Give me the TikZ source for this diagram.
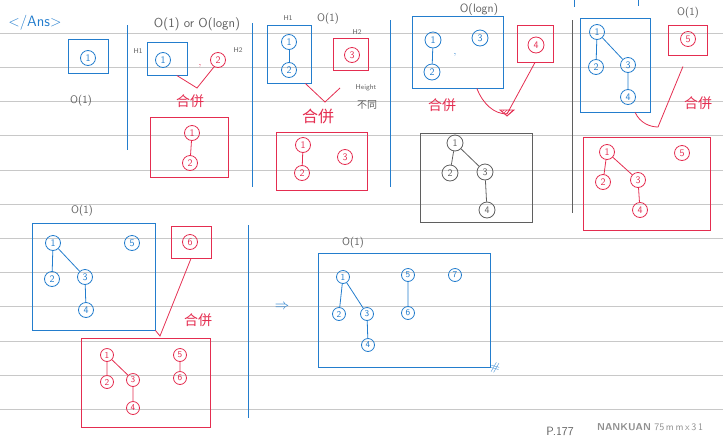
\documentclass[tikz,border=0pt]{standalone}
\usepackage{fontspec}
\newfontfamily\cjk{Noto Sans CJK TC}
\usepackage{tikz}
\usetikzlibrary{positioning,patterns}
\definecolor{penblue}{RGB}{35,125,205}
\definecolor{penred}{RGB}{228,45,80}
\definecolor{pencil}{RGB}{95,95,95}
\definecolor{ruling}{RGB}{200,200,200}
\tikzstyle{knode} = [circle, draw, inner sep=0pt, minimum size=15pt, line width=0.8pt, font=\sffamily\fontsize{10}{10}\selectfont]
\tikzstyle{note} = [text=pencil, font=\sffamily\fontsize{11}{11}\selectfont, inner sep=0pt]
\tikzstyle{merge} = [text=penred, font=\cjk\fontsize{14}{14}\selectfont, inner sep=0pt]

\begin{document}
\begin{tikzpicture}[x=1pt, y=-1pt,
	heap/.style = {draw=#1, line width=0.9pt, inner sep=0pt},
	pen/.style = {line width=0.8pt},
	small/.style = {knode, minimum size=13pt, font=\sffamily\fontsize{9}{9}\selectfont},
	]
	\useasboundingbox (0,0) rectangle (723,437);
	% notebook ruling
	\foreach \k in {0,...,11}
		\draw[ruling, line width=0.6pt] (0,{33+34.2*\k}) -- (723,{33+34.2*\k});
	\draw[penblue, pen] (127,25) -- (127,150);
	\draw[penblue, pen] (252,23) -- (252,187);
	\draw[penblue, pen] (390,20) -- (390,187);
	\draw[pencil, pen] (572,20) -- (572,213);
	\draw[penblue, pen] (248,225) -- (248,418);
	\draw[penblue, pen] (574,0) -- (574,7);
	\draw[penblue, pen] (638,0) -- (638,6);
	\node[text=penblue, font=\sffamily\fontsize{15}{15}\selectfont, inner sep=0pt] (ans) at (35,23) {</Ans>};

	% H = {1}
	\node[heap=penblue, minimum width=40pt, minimum height=34pt] (s1box) at (88,56) {};
	\node[knode, penblue] (s1n1) at (88,58) {1};
	\node[note] (s1cost) at (81,101) {O(1)};

	% insert 2
	\node[note, font=\sffamily\fontsize{13}{13}\selectfont] (s2cost) at (197,24) {O(1) or O(logn)};
	\node[note, font=\sffamily\scriptsize] (s2h1) at (138,51) {H1};
	\node[heap=penblue, minimum width=40pt, minimum height=33pt] (s2blue) at (167,58.5) {};
	\node[knode, penblue] (s2n1) at (163,60) {1};
	\node[text=penred, inner sep=0pt] (s2comma) at (200,66) {,};
	\node[knode, penred] (s2n2) at (218,60) {2};
	\node[note, font=\sffamily\scriptsize] (s2h2) at (238,50) {H2};
	\coordinate (s2v) at (197,88);
	\draw[penred, pen] (s2blue.-60) -- (s2v) -- (s2n2.240);
	\node[merge] (s2merge) at (190,101) {合併};
	\node[heap=penred, minimum width=78pt, minimum height=60pt] (s2red) at (189,147) {};
	\node[knode, penred] (s2r1) at (192,133) {1};
	\node[knode, penred] (s2r2) at (190,163) {2};
	\draw[penred, pen] (s2r1) -- (s2r2);

	% insert 3
	\node[note, font=\sffamily\scriptsize] (s3h1) at (288,18) {H1};
	\node[note] (s3cost) at (328,19) {O(1)};
	\node[note, font=\sffamily\scriptsize] (s3h2) at (357,32) {H2};
	\node[heap=penblue, minimum width=44pt, minimum height=58pt] (s3blue) at (289,54) {};
	\node[knode, penblue] (s3n1) at (289,42) {1};
	\node[knode, penblue] (s3n2) at (289,70) {2};
	\draw[penblue, pen] (s3n1) -- (s3n2);
	\node[heap=penred, minimum width=35pt, minimum height=32pt] (s3red) at (350.5,54) {};
	\node[knode, penred] (s3n3) at (352,55) {3};
	\coordinate (s3v) at (325,102);
	\coordinate (s3e) at (340,88);
	\draw[penred, pen] (s3blue.-61) -- (s3v) -- (s3e);
	\node[note, font=\sffamily\fontsize{7}{7}\selectfont] (s3height) at (366,88) {Height};
	\node[note, font=\cjk\fontsize{10}{10}\selectfont] (s3diff) at (367,105) {不同};
	\node[merge, font=\cjk\fontsize{16}{16}\selectfont] (s3merge) at (318,116) {合併};
	\node[heap=penred, minimum width=91pt, minimum height=58pt] (s3big) at (321.5,161) {};
	\node[knode, penred] (s3r1) at (303,145) {1};
	\node[knode, penred] (s3r2) at (302,173) {2};
	\node[knode, penred] (s3r3) at (345,157) {3};
	\draw[penred, pen] (s3r1) -- (s3r2);

	% insert 4
	\node[note, font=\sffamily\fontsize{12}{12}\selectfont] (s4cost) at (479,10) {O(logn)};
	\node[heap=penblue, minimum width=91pt, minimum height=72pt] (s4blue) at (457.5,52) {};
	\node[knode, penblue, minimum size=16pt] (s4n1) at (433,40) {1};
	\node[knode, penblue, minimum size=16pt] (s4n2) at (432,72) {2};
	\node[knode, penblue, minimum size=16pt] (s4n3) at (480,38) {3};
	\draw[penblue, pen] (s4n1) -- (s4n2);
	\node[text=penblue, inner sep=0pt] (s4comma) at (455,55) {,};
	\node[heap=penred, minimum width=36pt, minimum height=37pt] (s4red) at (535,43.5) {};
	\node[knode, penred, minimum size=16pt] (s4n4) at (536,45) {4};
	\coordinate (s4v) at (507,114);
	\draw[penred, pen] (s4blue.-62) .. controls (483,104) and (494,114) .. (s4v) -- (s4red.south);
	\draw[penred, pen, pattern=north east lines, pattern color=penred] (500,110) -- (514,110) -- (507,116) -- cycle;
	\node[merge] (s4merge) at (442,105) {合併};
	\node[heap=pencil, minimum width=112pt, minimum height=89pt] (s4gray) at (476,177.5) {};
	\node[knode, pencil, minimum size=16pt] (s4g1) at (455,143) {1};
	\node[knode, pencil, minimum size=16pt] (s4g2) at (450,173) {2};
	\node[knode, pencil, minimum size=16pt] (s4g3) at (485,172) {3};
	\node[knode, pencil, minimum size=16pt] (s4g4) at (487,210) {4};
	\draw[pencil, pen] (s4g1) -- (s4g2) (s4g1) -- (s4g3) (s4g3) -- (s4g4);

	% insert 5
	\node[note] (s5cost) at (688,13) {O(1)};
	\node[heap=penblue, minimum width=70pt, minimum height=94pt] (s5blue) at (615,65) {};
	\node[knode, penblue] (s5n1) at (597,32) {1};
	\node[knode, penblue] (s5n2) at (596,67) {2};
	\node[knode, penblue] (s5n3) at (628,65) {3};
	\node[knode, penblue] (s5n4) at (628,97) {4};
	\draw[penblue, pen] (s5n1) -- (s5n2) (s5n1) -- (s5n3) (s5n3) -- (s5n4);
	\node[heap=penred, minimum width=39pt, minimum height=30pt] (s5red) at (687.5,40) {};
	\node[knode, penred] (s5n5) at (688,39) {5};
	\coordinate (s5v) at (658,127);
	\draw[penred, pen, shorten >=12pt] (s5blue.-67) .. controls (640,123) and (650,127) .. (s5v) -- (s5red.south);
	\node[merge] (s5merge) at (698,103) {合併};
	\node[heap=penred, minimum width=127pt, minimum height=93pt] (s5big) at (646.5,183.5) {};
	\node[knode, penred] (s5r1) at (607,152) {1};
	\node[knode, penred] (s5r2) at (603,182) {2};
	\node[knode, penred] (s5r3) at (638,180) {3};
	\node[knode, penred] (s5r4) at (640,210) {4};
	\node[knode, penred] (s5r5) at (682,153) {5};
	\draw[penred, pen] (s5r1) -- (s5r2) (s5r1) -- (s5r3) (s5r3) -- (s5r4);

	% insert 6
	\node[note] (s6cost) at (82,211) {O(1)};
	\node[heap=penblue, minimum width=123pt, minimum height=107pt] (s6blue) at (93.5,276.5) {};
	\node[knode, penblue] (s6n1) at (53,243) {1};
	\node[knode, penblue] (s6n2) at (52,279) {2};
	\node[knode, penblue] (s6n3) at (85,277) {3};
	\node[knode, penblue] (s6n4) at (86,310) {4};
	\node[knode, penblue] (s6n5) at (132,243) {5};
	\draw[penblue, pen] (s6n1) -- (s6n2) (s6n1) -- (s6n3) (s6n3) -- (s6n4);
	\node[heap=penred, minimum width=40pt, minimum height=32pt] (s6red) at (191,242) {};
	\node[knode, penred] (s6n6) at (190,242) {6};
	\coordinate (s6v) at (160,336);
	\draw[penred, pen] (s6blue.south east) -- (s6v) -- (s6red.south);
	\node[merge] (s6merge) at (198,320) {合併};
	\node[heap=penred, minimum width=129pt, minimum height=89pt] (s6big) at (145.5,382.5) {};
	\node[small, penred] (s6r1) at (107,355) {1};
	\node[small, penred] (s6r2) at (107,382) {2};
	\node[small, penred] (s6r3) at (133,380) {3};
	\node[small, penred] (s6r4) at (133,408) {4};
	\node[small, penred] (s6r5) at (180,355) {5};
	\node[small, penred] (s6r6) at (180,378) {6};
	\draw[penred, pen] (s6r1) -- (s6r2) (s6r1) -- (s6r3) (s6r3) -- (s6r4) (s6r5) -- (s6r6);

	% insert 7
	\node[text=penblue, inner sep=0pt, font=\Large] (then) at (282,307) {$\Rightarrow$};
	\node[note] (s7cost) at (353,243) {O(1)};
	\node[heap=penblue, minimum width=172pt, minimum height=114pt] (s7blue) at (404,310) {};
	\node[small, penblue] (s7n1) at (343,277) {1};
	\node[small, penblue] (s7n2) at (339,314) {2};
	\node[small, penblue] (s7n3) at (367,314) {3};
	\node[small, penblue] (s7n4) at (368,345) {4};
	\node[small, penblue] (s7n5) at (408,275) {5};
	\node[small, penblue] (s7n6) at (408,313) {6};
	\node[small, penblue] (s7n7) at (455,275) {7};
	\draw[penblue, pen] (s7n1) -- (s7n2) (s7n1) -- (s7n3) (s7n3) -- (s7n4) (s7n5) -- (s7n6);
	\node[text=penblue, inner sep=0pt, rotate=-15, font=\large] (done) at (495,368) {\#};

	% page footer
	\node[note, font=\sffamily\fontsize{12}{12}\selectfont] (page) at (560,431) {P.177};
	\node[anchor=west, text=pencil!70, font=\sffamily\fontsize{10}{10}\selectfont, inner sep=0pt] (brand) at (597,427) {\textbf{NANKUAN} 75\,m\,m\,x\,3\,1};
\end{tikzpicture}
\end{document}
